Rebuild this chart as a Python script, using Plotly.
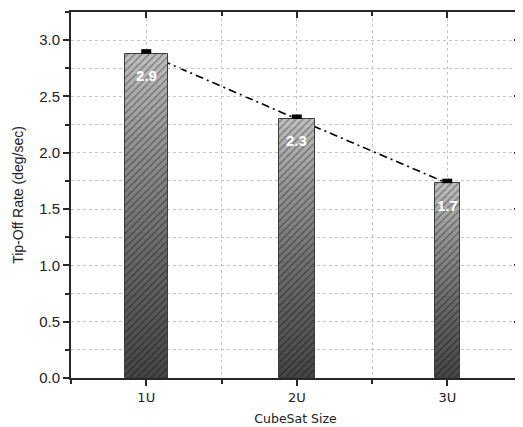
import plotly.graph_objects as go

categories = ["1U", "2U", "3U"]
values = [2.88, 2.30, 1.73]
errors = [0.04, 0.04, 0.04]
bar_widths = [0.285, 0.24, 0.17]
labels = [f"{v:.1f}" for v in values]
y_ticks = [0.0, 0.5, 1.0, 1.5, 2.0, 2.5, 3.0]

xpos = list(range(len(categories)))
fig = go.Figure()

# base hatched bar
fig.add_trace(go.Bar(
    x=xpos, y=values, width=bar_widths,
    marker=dict(color="rgb(190,190,190)",
                pattern=dict(shape="/", bgcolor="rgb(190,190,190)", fgcolor="rgb(70,70,70)",
                             size=5, solidity=0.3),
                line=dict(width=0)),
    hoverinfo="skip", showlegend=False))

# vertical gradient (darker toward bottom) via stacked translucent overlays
N = 30
for i in range(1, N + 1):
    frac = 1 - i / (N + 1)
    fig.add_trace(go.Bar(
        x=xpos, y=[v * frac for v in values], width=bar_widths,
        marker=dict(color="rgba(0,0,0,0.027)", line=dict(width=0)),
        hoverinfo="skip", showlegend=False))

# outline + error bars
fig.add_trace(go.Bar(
    x=xpos, y=values, width=bar_widths,
    marker=dict(color="rgba(0,0,0,0)", line=dict(color="rgb(60,60,60)", width=1)),
    error_y=dict(type="data", symmetric=False, array=errors, arrayminus=[0] * len(errors),
                 thickness=10, width=0, color="black"),
    showlegend=False))

# invisible trace so the mirrored (top/right) axes are drawn
fig.add_trace(go.Scatter(x=xpos, y=values, xaxis="x2", yaxis="y2", mode="markers",
                         marker=dict(opacity=0), showlegend=False, hoverinfo="skip"))

# dash-dot connecting line (below bars)
shapes = []
for i in range(len(values) - 1):
    shapes.append(dict(type="line", layer="below", xref="x", yref="y",
                       x0=xpos[i], y0=values[i], x1=xpos[i + 1], y1=values[i + 1],
                       line=dict(color="black", width=1.6, dash="8px,4px,2px,4px")))

annotations = [dict(x=xpos[i], y=values[i], xref="x", yref="y", text=f"<b>{labels[i]}</b>",
                    showarrow=False, yanchor="middle", yshift=-22,
                    font=dict(family="Liberation Sans, Arial", size=15, color="white"))
               for i in range(len(values))]

xr = [-0.5, 2.483]
yr = [0, 3.25]
grid_col = "rgb(195,195,195)"
axis_col = "rgb(40,40,40)"
minor_x = [-0.5, 0.5, 1.5, 2.5]

fig.update_layout(
    width=515, height=419,
    margin=dict(l=63, r=1, t=4, b=49),
    paper_bgcolor="white", plot_bgcolor="white",
    barmode="overlay", bargap=0,
    shapes=shapes, annotations=annotations,
    xaxis=dict(range=xr, tickvals=xpos, ticktext=categories,
               ticks="outside", ticklen=6, tickwidth=2, tickcolor=axis_col,
               showline=True, linecolor=axis_col, linewidth=2, mirror=True,
               showgrid=True, gridcolor=grid_col, griddash="dot", gridwidth=1,
               zeroline=False,
               minor=dict(tickvals=minor_x, ticks="outside", ticklen=4,
                          tickwidth=2, tickcolor=axis_col,
                          showgrid=True, gridcolor=grid_col, griddash="dot", gridwidth=1),
               tickfont=dict(family="DejaVu Sans", size=13, color="#222"),
               title=dict(text="CubeSat Size", standoff=11,
                          font=dict(family="DejaVu Sans", size=12.5, color="#222"))),
    yaxis=dict(range=yr, tickvals=y_ticks, tickformat=".1f",
               ticks="outside", ticklen=6, tickwidth=2, tickcolor=axis_col,
               showline=True, linecolor=axis_col, linewidth=2, mirror=True,
               showgrid=True, gridcolor=grid_col, griddash="dot", gridwidth=1,
               zeroline=False,
               minor=dict(dtick=0.25, tick0=0, ticks="outside", ticklen=4, tickwidth=2,
                          tickcolor=axis_col,
                          showgrid=True, gridcolor=grid_col, griddash="dot", gridwidth=1),
               tickfont=dict(family="Liberation Sans, Arial", size=15, color="#222"),
               title=dict(text="Tip-Off Rate (deg/sec)", standoff=12,
                          font=dict(family="Liberation Sans, Arial", size=14, color="#222"))),
    xaxis2=dict(overlaying="x", side="top", anchor="y2", range=xr, tickvals=xpos,
                ticks="inside", ticklen=6, tickwidth=2, tickcolor=axis_col,
                showticklabels=False, showline=False,
                showgrid=False, zeroline=False,
                minor=dict(tickvals=minor_x, ticks="inside", ticklen=4,
                           tickwidth=2, tickcolor=axis_col, showgrid=False)),
    yaxis2=dict(overlaying="y", side="right", anchor="x2", range=yr, tickvals=y_ticks,
                ticks="inside", ticklen=6, tickwidth=2, tickcolor=axis_col,
                showticklabels=False, showline=False,
                showgrid=False, zeroline=False,
                minor=dict(dtick=0.25, tick0=0, ticks="inside", ticklen=4, tickwidth=2,
                           tickcolor=axis_col, showgrid=False)),
)

fig.write_html("out.html")
